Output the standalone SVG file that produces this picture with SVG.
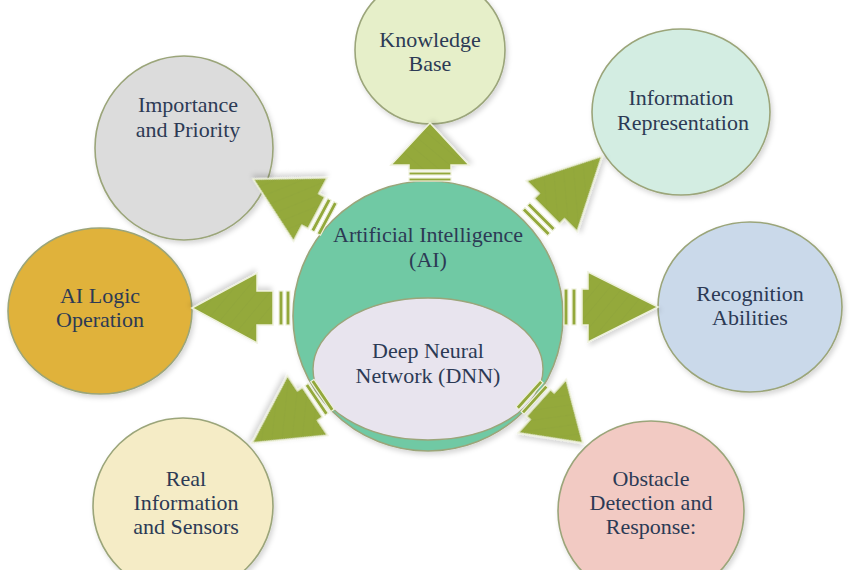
<svg xmlns="http://www.w3.org/2000/svg" width="850" height="570" viewBox="0 0 850 570">
<defs>
  <filter id="sh" x="-10%" y="-10%" width="125%" height="125%">
    <feDropShadow dx="2" dy="3" stdDeviation="2.5" flood-color="#000" flood-opacity="0.16"/>
  </filter>
  <pattern id="tex" width="10" height="10" patternUnits="userSpaceOnUse" patternTransform="rotate(40)">
    <rect width="10" height="10" fill="#94a93b"/>
    <line x1="0" y1="0" x2="0" y2="10" stroke="#8da238" stroke-width="0.8"/>
  </pattern>
  <style>
    .node { stroke: #9ba57a; stroke-width: 1.6; filter: url(#sh); }
    .lbl { font-family: "Liberation Serif", "Times New Roman", serif; font-size: 22px; fill: #2c3a55; text-anchor: middle; }
    .arrow { fill: url(#tex); stroke: #eef1dc; stroke-width: 1.5; stroke-linejoin: miter; filter: url(#sh); }
    .bar { fill: #93a83b; stroke: #eef1dc; stroke-width: 1.2; }
  </style>
</defs>
<rect width="850" height="570" fill="#ffffff"/>

<g id="ai">
  <ellipse class="node" cx="428" cy="316" rx="135" ry="135" fill="#70c9a4"/>
  <text class="lbl" x="428" y="242">Artificial Intelligence</text>
  <text class="lbl" x="428" y="267">(AI)</text>
</g>
<g id="dnn">
  <ellipse cx="428" cy="369" rx="115" ry="71" fill="#e8e4ee" stroke="#9ba57a" stroke-width="1.4"/>
  <text class="lbl" x="428" y="358">Deep Neural</text>
  <text class="lbl" x="428" y="383">Network (DNN)</text>
</g>

<g id="knowledge-base">
  <ellipse class="node" cx="430" cy="50" rx="75" ry="74" fill="#e6efc9"/>
  <text class="lbl" x="430" y="47">Knowledge</text>
  <text class="lbl" x="430" y="71">Base</text>
</g>
<g id="importance">
  <ellipse class="node" cx="184" cy="148" rx="89" ry="92" fill="#dcdcdc"/>
  <text class="lbl" x="188" y="112">Importance</text>
  <text class="lbl" x="188" y="137">and Priority</text>
</g>
<g id="information-representation">
  <ellipse class="node" cx="681" cy="112" rx="89" ry="83" fill="#d3ede2"/>
  <text class="lbl" x="681" y="105">Information</text>
  <text class="lbl" x="683" y="130">Representation</text>
</g>
<g id="ai-logic">
  <ellipse class="node" cx="100" cy="311" rx="92" ry="83" fill="#e0b23a"/>
  <text class="lbl" x="100" y="303">AI Logic</text>
  <text class="lbl" x="100" y="327">Operation</text>
</g>
<g id="recognition">
  <ellipse class="node" cx="750" cy="307" rx="92" ry="85" fill="#cad9ea"/>
  <text class="lbl" x="750" y="301">Recognition</text>
  <text class="lbl" x="750" y="325">Abilities</text>
</g>
<g id="real-information">
  <ellipse class="node" cx="183" cy="506" rx="90" ry="88" fill="#f5ecc6"/>
  <text class="lbl" x="186" y="486">Real</text>
  <text class="lbl" x="186" y="510">Information</text>
  <text class="lbl" x="186" y="534">and Sensors</text>
</g>
<g id="obstacle">
  <ellipse class="node" cx="651" cy="511" rx="93" ry="90" fill="#f2cac3"/>
  <text class="lbl" x="651" y="486">Obstacle</text>
  <text class="lbl" x="651" y="510">Detection and</text>
  <text class="lbl" x="651" y="534">Response:</text>
</g>

<g id="connectors">
  <!-- up: Knowledge Base -->
  <g transform="translate(430,123) rotate(-90)">
    <polygon class="arrow" points="0,0 -42,-39 -42,-21 -47,-21 -47,21 -42,21 -42,39"/>
    <rect class="bar" x="-52" y="-21" width="3" height="42"/>
    <rect class="bar" x="-58" y="-21" width="3" height="42"/>
  </g>
  <!-- upper right: Information Representation -->
  <g transform="translate(602,156) rotate(-45)">
    <polygon class="arrow" points="0,0 -71,-36 -71,-18 -78,-18 -78,18 -71,18 -71,36"/>
    <rect class="bar" x="-88" y="-18" width="4" height="36"/>
    <rect class="bar" x="-95" y="-18" width="4" height="36"/>
  </g>
  <!-- right: Recognition -->
  <g transform="translate(658,307)">
    <polygon class="arrow" points="0,0 -70,-35 -70,-18 -76,-18 -76,18 -70,18 -70,35"/>
    <rect class="bar" x="-86" y="-18" width="4" height="36"/>
    <rect class="bar" x="-94" y="-18" width="4" height="36"/>
  </g>
  <!-- lower right: Obstacle -->
  <g transform="translate(583,443) rotate(42)">
    <polygon class="arrow" points="0,0 -55,-36 -55,-18 -60,-18 -60,18 -55,18 -55,36"/>
    <rect class="bar" x="-67" y="-18" width="4" height="36"/>
    <rect class="bar" x="-74" y="-18" width="4" height="36"/>
  </g>
  <!-- lower left: Real Information -->
  <g transform="translate(252,443) rotate(146)">
    <polygon class="arrow" points="0,0 -67,-36 -67,-18 -73,-18 -73,18 -67,18 -67,36"/>
    <rect class="bar" x="-80" y="-18" width="4" height="36"/>
    <rect class="bar" x="-87" y="-18" width="4" height="36"/>
  </g>
  <!-- left: AI Logic -->
  <g transform="translate(192,308) rotate(180)">
    <polygon class="arrow" points="0,0 -65,-35 -65,-17 -81,-17 -81,17 -65,17 -65,35"/>
    <rect class="bar" x="-91" y="-17" width="4" height="34"/>
    <rect class="bar" x="-98" y="-17" width="4" height="34"/>
  </g>
  <!-- upper left: Importance -->
  <g transform="translate(253,179) rotate(208)">
    <polygon class="arrow" points="0,0 -65,-36 -65,-18 -72,-18 -72,18 -65,18 -65,36"/>
    <rect class="bar" x="-79" y="-18" width="4" height="36"/>
    <rect class="bar" x="-86" y="-18" width="4" height="36"/>
  </g>
</g>
</svg>
